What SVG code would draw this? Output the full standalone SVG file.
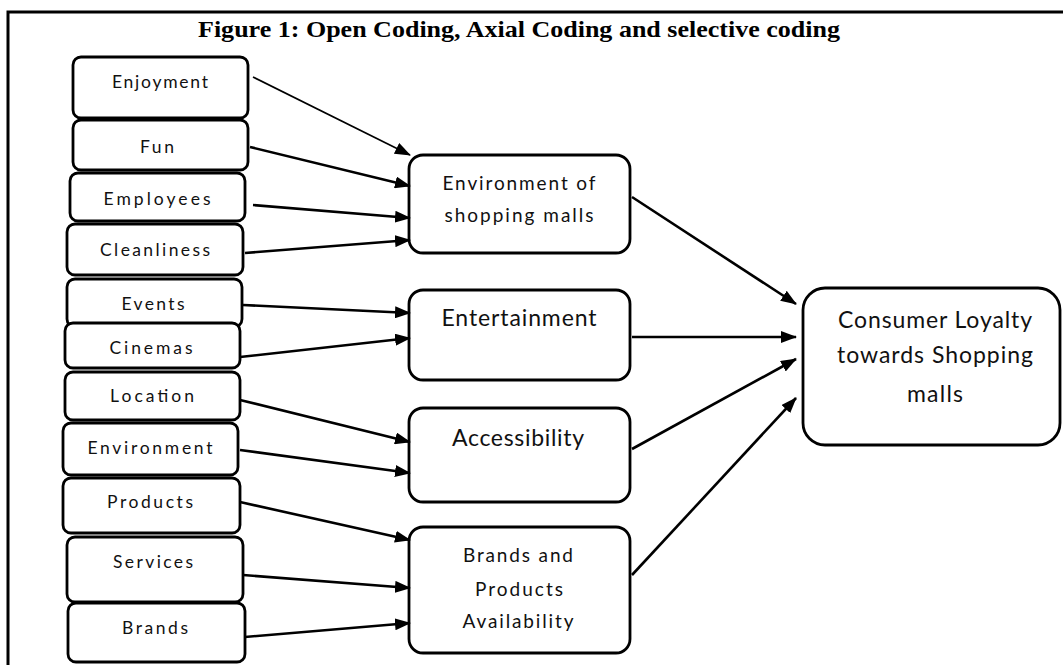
<svg xmlns="http://www.w3.org/2000/svg" width="1063" height="665" viewBox="0 0 1063 665">
<style>
.box{fill:#fff;stroke:#000;stroke-width:2.8}
.t{font-family:Lato,"Open Sans","Liberation Sans",sans-serif;fill:#111;text-anchor:middle}
.s{font-size:17.5px}
.m{font-size:19px}
.l{font-size:23px}
.c line{stroke:#000;stroke-width:2.6;marker-end:url(#ah)}
.title{font-family:"Liberation Serif",serif;font-weight:bold;font-size:23px;fill:#000;text-anchor:middle}
</style>
<defs>
<marker id="ah" markerUnits="userSpaceOnUse" markerWidth="16" markerHeight="12" viewBox="0 0 16 12" refX="15" refY="6" orient="auto">
<path d="M0,0 L16,6 L0,12 Z" fill="#000"/>
</marker>
</defs>
<rect width="1063" height="665" fill="#fff"/>
<path d="M8,665 V12 H1063" fill="none" stroke="#000" stroke-width="3"/>
<text class="title" x="519" y="37" textLength="642" lengthAdjust="spacingAndGlyphs">Figure 1: Open Coding, Axial Coding and selective coding</text>

<g id="enjoyment"><rect class="box" x="73" y="57" width="175" height="61" rx="8"/><text class="t s" x="160" y="88" textLength="96">Enjoyment</text></g>
<g id="fun"><rect class="box" x="73" y="120" width="175" height="50" rx="8"/><text class="t s" x="157" y="153" textLength="34">Fun</text></g>
<g id="employees"><rect class="box" x="70" y="173" width="175" height="48" rx="8"/><text class="t s" x="157" y="205" textLength="107">Employees</text></g>
<g id="cleanliness"><rect class="box" x="67" y="224" width="176" height="51" rx="8"/><text class="t s" x="155" y="256" textLength="110">Cleanliness</text></g>
<g id="events"><rect class="box" x="67" y="279" width="175" height="48" rx="8"/><text class="t s" x="153" y="310" textLength="63">Events</text></g>
<g id="cinemas"><rect class="box" x="65" y="323" width="175" height="45" rx="8"/><text class="t s" x="151" y="354" textLength="83">Cinemas</text></g>
<g id="location"><rect class="box" x="65" y="372" width="175" height="48" rx="8"/><text class="t s" x="152" y="402" textLength="84">Location</text></g>
<g id="environment"><rect class="box" x="63" y="423" width="175" height="52" rx="8"/><text class="t s" x="150" y="454" textLength="125">Environment</text></g>
<g id="products"><rect class="box" x="63" y="478" width="177" height="55" rx="8"/><text class="t s" x="150" y="508" textLength="86">Products</text></g>
<g id="services"><rect class="box" x="67" y="537" width="176" height="65" rx="8"/><text class="t s" x="153" y="568" textLength="80">Services</text></g>
<g id="brands"><rect class="box" x="68" y="603" width="177" height="59" rx="8"/><text class="t s" x="155" y="634" textLength="66">Brands</text></g>

<g id="env-malls"><rect class="box" x="409" y="155" width="221" height="98" rx="14"/><text class="t m" x="519" y="190" textLength="153">Environment of</text><text class="t m" x="519" y="222" textLength="149">shopping malls</text></g>
<g id="entertainment"><rect class="box" x="409" y="290" width="221" height="90" rx="14"/><text class="t l" x="519" y="326" textLength="155">Entertainment</text></g>
<g id="accessibility"><rect class="box" x="409" y="408" width="221" height="94" rx="14"/><text class="t l" x="518" y="446" textLength="132">Accessibility</text></g>
<g id="brands-products"><rect class="box" x="409" y="527" width="221" height="126" rx="14"/><text class="t m" x="518" y="562" textLength="110">Brands and</text><text class="t m" x="519" y="596" textLength="88">Products</text><text class="t m" x="518" y="628" textLength="111">Availability</text></g>

<g id="loyalty"><rect class="box" x="803" y="288" width="257" height="157" rx="22"/><text class="t l" x="935" y="328" textLength="194">Consumer Loyalty</text><text class="t l" x="935" y="363" textLength="196">towards Shopping</text><text class="t l" x="935" y="402" textLength="56">malls</text></g>

<g class="c" id="connectors">
<line x1="253" y1="77" x2="410" y2="155" style="stroke-width:1.6"/>
<line x1="250" y1="147" x2="410" y2="186"/>
<line x1="253" y1="205" x2="410" y2="218"/>
<line x1="245" y1="253" x2="410" y2="240"/>
<line x1="243" y1="305" x2="410" y2="313"/>
<line x1="240" y1="357" x2="410" y2="338"/>
<line x1="240" y1="400" x2="410" y2="442"/>
<line x1="240" y1="450" x2="410" y2="473"/>
<line x1="240" y1="502" x2="410" y2="540"/>
<line x1="243" y1="575" x2="410" y2="588"/>
<line x1="245" y1="637" x2="410" y2="623"/>
<line x1="632" y1="197" x2="796" y2="304"/>
<line x1="632" y1="337" x2="796" y2="337"/>
<line x1="632" y1="449" x2="796" y2="359"/>
<line x1="632" y1="575" x2="796" y2="398"/>
</g>
</svg>
